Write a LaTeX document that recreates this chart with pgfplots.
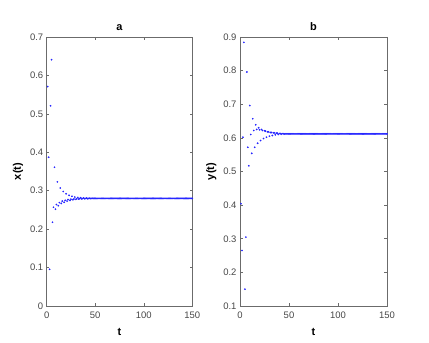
\documentclass[border=0pt]{standalone}
\usepackage{fontspec}
\setmainfont{Liberation Sans}
\usepackage{pgfplots}
\pgfplotsset{compat=1.18}

\definecolor{axgray}{rgb}{0.42,0.42,0.42}
\definecolor{txtgray}{rgb}{0.28,0.28,0.28}
\definecolor{dotblue}{rgb}{0.15,0.15,1}

\pgfplotsset{
  matfig/.style={
    scale only axis,
    height=269bp,
    anchor=south west,
    xmin=0, xmax=150,
    xtick={0,50,100,150},
    tick align=inside,
    tick pos=both,
    major tick length=2.7bp,
    axis line style={axgray, line width=0.6bp},
    every tick/.style={axgray, line width=0.5bp},
    ticklabel style={font=\fontsize{9.5}{11}\selectfont, text=txtgray},
    xticklabel style={yshift=-2bp},
    /pgf/number format/assume math mode=true,
    xlabel style={font=\fontsize{11}{13}\selectfont\bfseries, text=black, yshift=-3bp},
    ylabel style={font=\fontsize{11}{13}\selectfont\bfseries, text=black},
    title style={font=\fontsize{11}{13}\selectfont\bfseries, yshift=-3bp},
    xlabel={t},
  },
  dots/.style={only marks, mark=*, mark size=0.65bp, color=dotblue, draw=none, fill=dotblue},
}

\begin{document}
\begin{tikzpicture}
\useasboundingbox (0,0) rectangle (429bp,343bp);

\begin{axis}[
  matfig,
  at={(46.7bp,37bp)},
  width=145.6bp,
  ymin=0, ymax=0.7,
  ytick={0,0.1,0.2,0.3,0.4,0.5,0.6,0.7},
  ylabel={x(t)},
  title={a},
]
\addplot[dots] coordinates {
(1,0.571)(2,0.387)(3,0.0955)(4,0.521)(5,0.641)(6,0.218)(7,0.257)(8,0.361)(9,0.252)(10,0.264)
(11,0.323)(12,0.261)(13,0.269)(14,0.307)(15,0.267)(16,0.273)(17,0.298)(18,0.270)(19,0.275)(20,0.292)
(21,0.273)(22,0.277)(23,0.288)(24,0.275)(25,0.278)(26,0.2855)(27,0.2765)(28,0.2785)(29,0.2835)(30,0.2775)
(31,0.279)(32,0.2825)(33,0.2783)(34,0.2793)(35,0.2817)(36,0.2788)(37,0.2795)(38,0.2811)(39,0.2791)(40,0.2797)
(41,0.2807)(42,0.2794)(43,0.2798)(44,0.2804)(45,0.2797)(46,0.2799)(47,0.2802)(48,0.28)(49,0.28)(50,0.28)
(51,0.28)(52,0.28)(53,0.28)(54,0.28)(55,0.28)(56,0.28)(57,0.28)(58,0.28)(59,0.28)(60,0.28)
(61,0.28)(62,0.28)(63,0.28)(64,0.28)(65,0.28)(66,0.28)(67,0.28)(68,0.28)(69,0.28)(70,0.28)
(71,0.28)(72,0.28)(73,0.28)(74,0.28)(75,0.28)(76,0.28)(77,0.28)(78,0.28)(79,0.28)(80,0.28)
(81,0.28)(82,0.28)(83,0.28)(84,0.28)(85,0.28)(86,0.28)(87,0.28)(88,0.28)(89,0.28)(90,0.28)
(91,0.28)(92,0.28)(93,0.28)(94,0.28)(95,0.28)(96,0.28)(97,0.28)(98,0.28)(99,0.28)(100,0.28)
(101,0.28)(102,0.28)(103,0.28)(104,0.28)(105,0.28)(106,0.28)(107,0.28)(108,0.28)(109,0.28)(110,0.28)
(111,0.28)(112,0.28)(113,0.28)(114,0.28)(115,0.28)(116,0.28)(117,0.28)(118,0.28)(119,0.28)(120,0.28)
(121,0.28)(122,0.28)(123,0.28)(124,0.28)(125,0.28)(126,0.28)(127,0.28)(128,0.28)(129,0.28)(130,0.28)
(131,0.28)(132,0.28)(133,0.28)(134,0.28)(135,0.28)(136,0.28)(137,0.28)(138,0.28)(139,0.28)(140,0.28)
(141,0.28)(142,0.28)(143,0.28)(144,0.28)(145,0.28)(146,0.28)(147,0.28)(148,0.28)(149,0.28)(150,0.28)
};
\end{axis}

\begin{axis}[
  matfig,
  at={(240bp,37bp)},
  width=147bp,
  ymin=0.1, ymax=0.9,
  ytick={0.1,0.2,0.3,0.4,0.5,0.6,0.7,0.8,0.9},
  ylabel={y(t)},
  title={b},
]
\addplot[dots] coordinates {
(1,0.404)(2,0.265)(3,0.602)(4,0.884)(5,0.150)(6,0.305)(7,0.796)(8,0.572)(9,0.517)(10,0.696)
(11,0.610)(12,0.554)(13,0.657)(14,0.622)(15,0.572)(16,0.639)(17,0.625)(18,0.584)(19,0.630)(20,0.624)
(21,0.592)(22,0.625)(23,0.622)(24,0.598)(25,0.621)(26,0.620)(27,0.602)(28,0.618)(29,0.618)(30,0.605)
(31,0.616)(32,0.616)(33,0.607)(34,0.615)(35,0.615)(36,0.609)(37,0.614)(38,0.614)(39,0.610)(40,0.613)
(41,0.613)(42,0.611)(43,0.6125)(44,0.6125)(45,0.6115)(46,0.612)(47,0.612)(48,0.612)(49,0.612)(50,0.612)
(51,0.612)(52,0.612)(53,0.612)(54,0.612)(55,0.612)(56,0.612)(57,0.612)(58,0.612)(59,0.612)(60,0.612)
(61,0.612)(62,0.612)(63,0.612)(64,0.612)(65,0.612)(66,0.612)(67,0.612)(68,0.612)(69,0.612)(70,0.612)
(71,0.612)(72,0.612)(73,0.612)(74,0.612)(75,0.612)(76,0.612)(77,0.612)(78,0.612)(79,0.612)(80,0.612)
(81,0.612)(82,0.612)(83,0.612)(84,0.612)(85,0.612)(86,0.612)(87,0.612)(88,0.612)(89,0.612)(90,0.612)
(91,0.612)(92,0.612)(93,0.612)(94,0.612)(95,0.612)(96,0.612)(97,0.612)(98,0.612)(99,0.612)(100,0.612)
(101,0.612)(102,0.612)(103,0.612)(104,0.612)(105,0.612)(106,0.612)(107,0.612)(108,0.612)(109,0.612)(110,0.612)
(111,0.612)(112,0.612)(113,0.612)(114,0.612)(115,0.612)(116,0.612)(117,0.612)(118,0.612)(119,0.612)(120,0.612)
(121,0.612)(122,0.612)(123,0.612)(124,0.612)(125,0.612)(126,0.612)(127,0.612)(128,0.612)(129,0.612)(130,0.612)
(131,0.612)(132,0.612)(133,0.612)(134,0.612)(135,0.612)(136,0.612)(137,0.612)(138,0.612)(139,0.612)(140,0.612)
(141,0.612)(142,0.612)(143,0.612)(144,0.612)(145,0.612)(146,0.612)(147,0.612)(148,0.612)(149,0.612)(150,0.612)
};
\end{axis}
\end{tikzpicture}
\end{document}
